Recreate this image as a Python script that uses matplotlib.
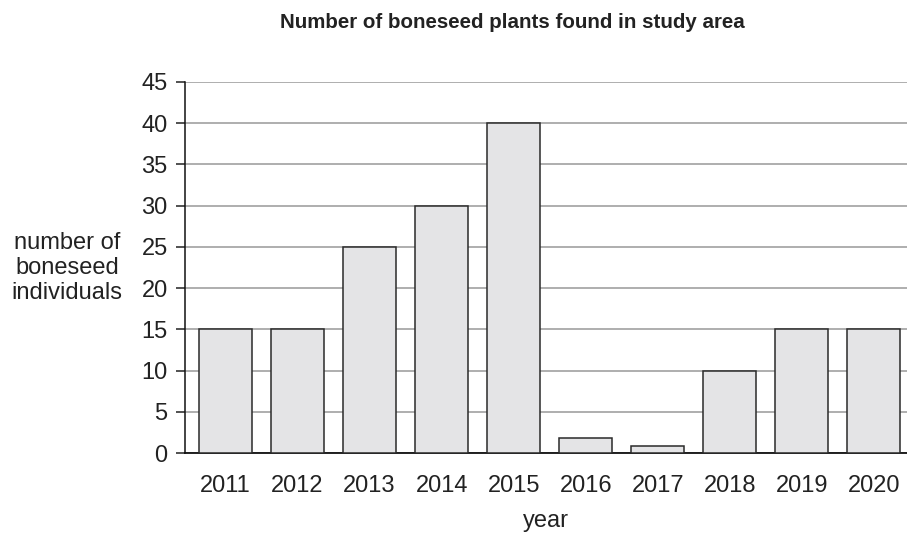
import matplotlib
matplotlib.use("Agg")
import matplotlib.pyplot as plt
import numpy as np

years = ["2011", "2012", "2013", "2014", "2015", "2016", "2017", "2018", "2019", "2020"]
counts = [15, 15, 25, 30, 40, 1.8, 0.8, 10, 15, 15]
yticks = [0, 5, 10, 15, 20, 25, 30, 35, 40, 45]

plt.rcParams['font.family'] = ['Liberation Sans', 'DejaVu Sans']

fig = plt.figure(figsize=(9.07, 5.33), dpi=100)
ax = fig.add_axes([185/907, 1-453/533, 1-185/907, (453-82)/533])

x = np.arange(len(years))
ax.bar(x, counts, width=0.735, color='#e4e4e6', edgecolor='#2a2a2a', linewidth=1.1, zorder=3)

ax.set_ylim(0, 45)
ax.set_xlim(-0.563, 9.46)
ax.set_yticks(yticks)
ax.set_yticklabels([str(t) for t in yticks])
ax.set_xticks(x)
ax.set_xticklabels(years)
ax.yaxis.grid(True, color='#a8a8a8', linewidth=1.3, zorder=0)
ax.set_axisbelow(True)

for s in ['top', 'right']:
    ax.spines[s].set_visible(False)
ax.spines['left'].set_linewidth(1.1)
ax.spines['bottom'].set_linewidth(1.3)
ax.spines['left'].set_color('#111111')
ax.spines['bottom'].set_color('#111111')

ax.tick_params(axis='y', length=6.5, width=1.1, pad=6, labelsize=17, colors='#222222')
ax.tick_params(axis='x', length=0, pad=16, labelsize=17, colors='#222222')

ax.set_xlabel('year', fontsize=17, color='#222222', labelpad=9)
fig.text(67/907, 1-268/533, 'number of\nboneseed\nindividuals', ha='center', va='center',
         fontsize=17, color='#222222', linespacing=1.15)
fig.text(512/907, 1-22/533, 'Number of boneseed plants found in study area', ha='center', va='center',
         fontsize=14.8, fontweight='bold', color='#222222')

fig.savefig('out.png', dpi=100)
